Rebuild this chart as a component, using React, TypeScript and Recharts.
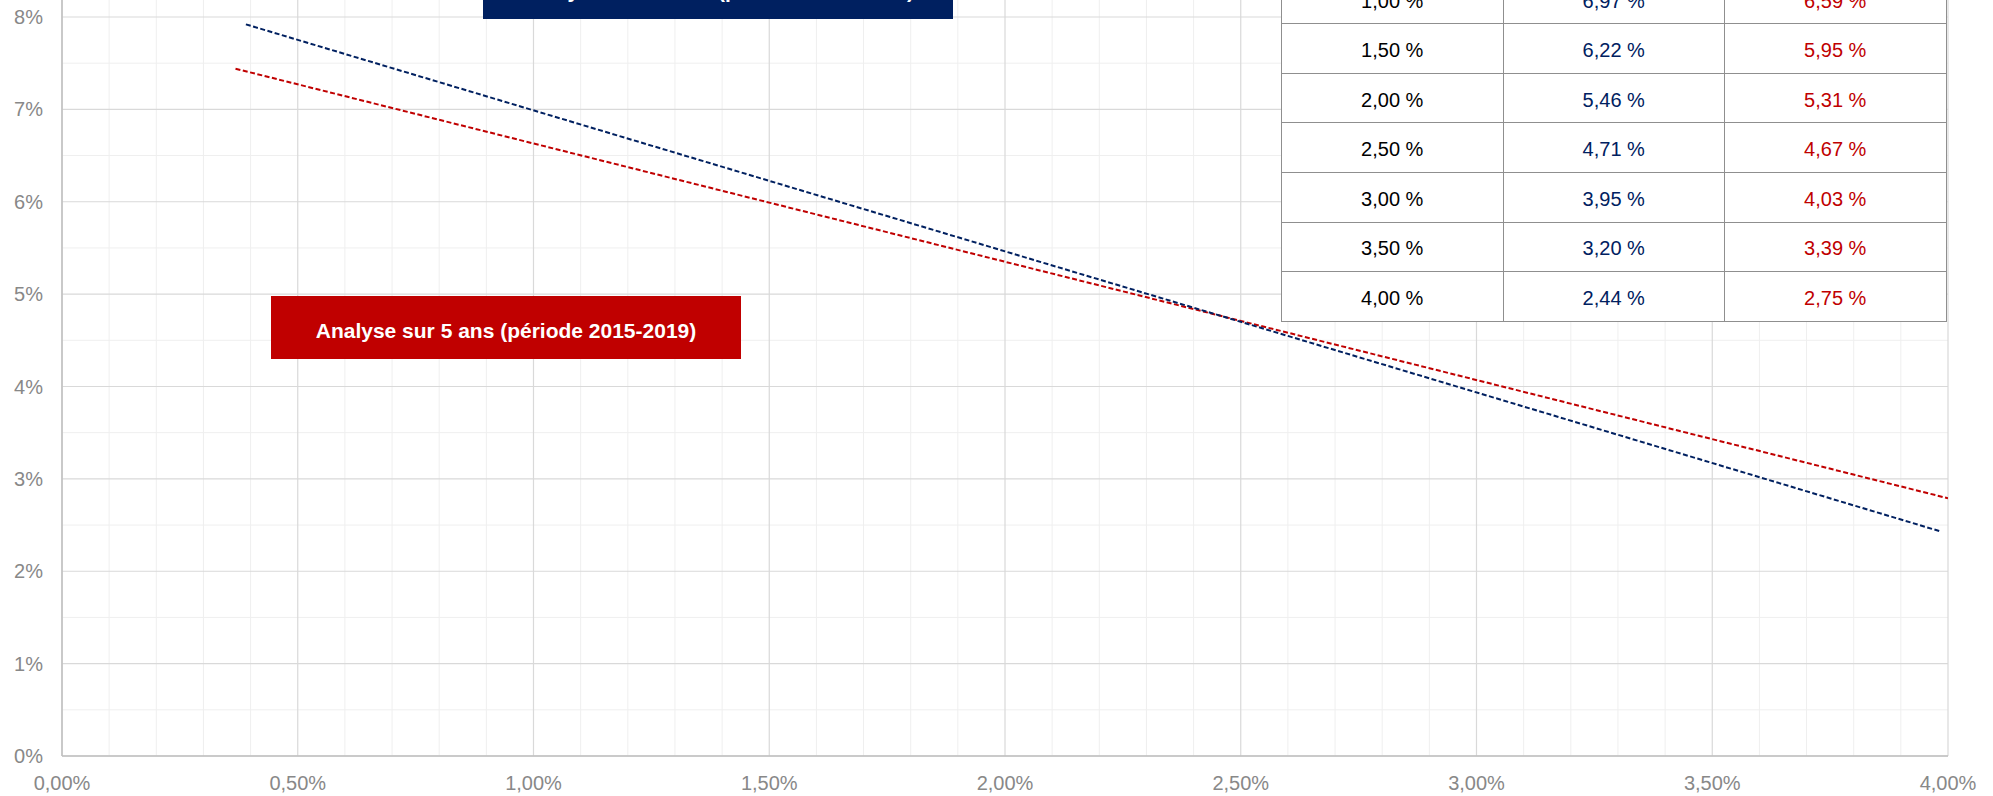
import React from 'react';
import { ComposedChart, Line, XAxis, YAxis, CartesianGrid } from 'recharts';

// axis ticks (rates in %)
const xTicks = [0, 0.5, 1, 1.5, 2, 2.5, 3, 3.5, 4];
const yTicks = [0, 1, 2, 3, 4, 5, 6, 7, 8];
const xMinor = [
  0.1, 0.2, 0.3, 0.4, 0.6, 0.7, 0.8, 0.9, 1.1, 1.2, 1.3, 1.4, 1.6, 1.7, 1.8, 1.9,
  2.1, 2.2, 2.3, 2.4, 2.6, 2.7, 2.8, 2.9, 3.1, 3.2, 3.3, 3.4, 3.6, 3.7, 3.8, 3.9,
];
const yMinor = [0.5, 1.5, 2.5, 3.5, 4.5, 5.5, 6.5, 7.5, 8.5];

// trend lines as drawn: 10 years (blue) and 5 years (red)
const blueLine = [
  { x: 0.39, y: 7.92 },
  { x: 2.5, y: 4.7 },
  { x: 3.985, y: 2.43 },
];
const redLine = [
  { x: 0.368, y: 7.44 },
  { x: 2.5, y: 4.71 },
  { x: 4, y: 2.79 },
];

// table on the right
const tableRates = ['1,00 %', '1,50 %', '2,00 %', '2,50 %', '3,00 %', '3,50 %', '4,00 %'];
const tableBlue = ['6,97 %', '6,22 %', '5,46 %', '4,71 %', '3,95 %', '3,20 %', '2,44 %'];
const tableRed = ['6,59 %', '5,95 %', '5,31 %', '4,67 %', '4,03 %', '3,39 %', '2,75 %'];

const blueLabel = 'Analyse sur 10 ans (période 2010-2019)';
const redLabel = 'Analyse sur 5 ans (période 2015-2019)';

const NAVY = '#002060';
const RED = '#C00000';
const FONT = '"Liberation Sans", Arial, sans-serif';

const formatX = (v: number) => `${v.toFixed(2).replace('.', ',')}%`;
const formatY = (v: number) => `${v}%`;

const boxStyle = (bg: string): React.CSSProperties => ({
  position: 'absolute',
  width: 470,
  height: 63,
  background: bg,
  color: '#ffffff',
  fontFamily: FONT,
  fontWeight: 'bold',
  fontSize: 21,
  display: 'flex',
  alignItems: 'center',
  justifyContent: 'center',
  paddingTop: 6,
  boxSizing: 'border-box',
  whiteSpace: 'nowrap',
});

const cellStyle = (color: string): React.CSSProperties => ({
  width: 221.5,
  height: 49.6,
  boxSizing: 'border-box',
  borderRight: '1px solid #8f8f8f',
  borderBottom: '1px solid #8f8f8f',
  display: 'flex',
  alignItems: 'center',
  justifyContent: 'center',
  paddingTop: 4,
  color,
  fontFamily: FONT,
  fontSize: 20,
  background: '#ffffff',
});

export default function App() {
  return (
    <div
      style={{
        position: 'absolute',
        left: 0,
        top: 0,
        width: 1993,
        height: 796,
        overflow: 'hidden',
        background: '#ffffff',
      }}
    >
      <div style={{ position: 'absolute', left: 0, top: -100 }}>
        <ComposedChart
          width={1993}
          height={896}
          margin={{ top: 24.6, right: 45, left: 0, bottom: 0 }}
        >
          {/* minor grid first, major grid on top */}
          <CartesianGrid
            stroke="#efefef"
            strokeWidth={1}
            verticalValues={xMinor}
            horizontalValues={yMinor}
          />
          <CartesianGrid stroke="#d9d9d9" strokeWidth={1.2} />
          <XAxis
            dataKey="x"
            type="number"
            domain={[0, 4]}
            ticks={xTicks}
            tickFormatter={formatX}
            height={40}
            tickLine={false}
            tickSize={0}
            tickMargin={20}
            axisLine={{ stroke: '#bfbfbf', strokeWidth: 1.5 }}
            tick={{ fill: '#888888', fontSize: 20, fontFamily: FONT }}
            allowDataOverflow
          />
          <YAxis
            type="number"
            domain={[0, 9]}
            ticks={yTicks}
            tickFormatter={formatY}
            width={62}
            tickLine={false}
            tickSize={0}
            tickMargin={19}
            axisLine={{ stroke: '#bfbfbf', strokeWidth: 1.5 }}
            tick={{ fill: '#888888', fontSize: 20, fontFamily: FONT }}
            allowDataOverflow
          />
          <Line
            data={redLine}
            dataKey="y"
            type="linear"
            stroke={RED}
            strokeWidth={2}
            strokeDasharray="5 2.5"
            dot={false}
            activeDot={false}
            isAnimationActive={false}
          />
          <Line
            data={blueLine}
            dataKey="y"
            type="linear"
            stroke={NAVY}
            strokeWidth={2}
            strokeDasharray="5 2.5"
            dot={false}
            activeDot={false}
            isAnimationActive={false}
          />
        </ComposedChart>
      </div>

      {/* annotation boxes */}
      <div style={{ ...boxStyle(NAVY), left: 483, top: -44 }}>{blueLabel}</div>
      <div style={{ ...boxStyle(RED), left: 271, top: 296 }}>{redLabel}</div>

      {/* value table */}
      <div
        style={{
          position: 'absolute',
          left: 1281,
          top: -26.3,
          borderLeft: '1px solid #8f8f8f',
          borderTop: '1px solid #8f8f8f',
        }}
      >
        {tableRates.map((rate, i) => (
          <div key={rate} style={{ display: 'flex' }}>
            <div style={cellStyle('#000000')}>{rate}</div>
            <div style={cellStyle(NAVY)}>{tableBlue[i]}</div>
            <div style={cellStyle(RED)}>{tableRed[i]}</div>
          </div>
        ))}
      </div>
    </div>
  );
}
